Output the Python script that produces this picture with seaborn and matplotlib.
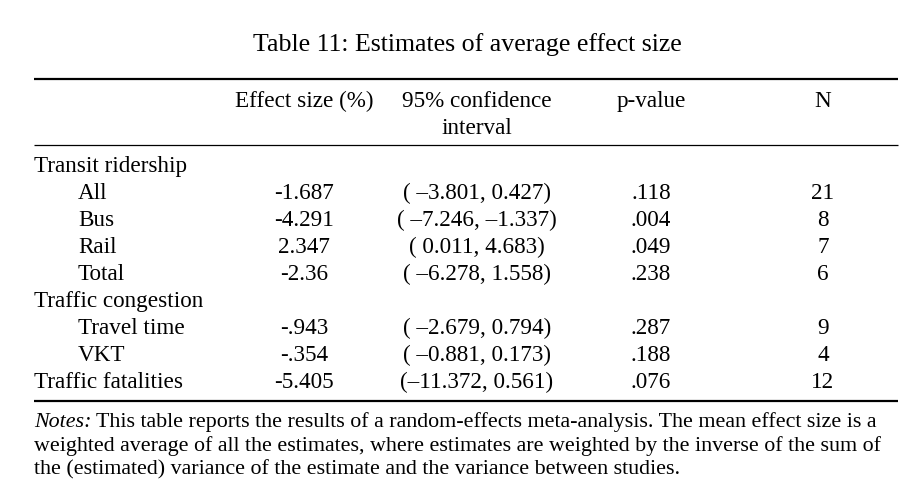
import seaborn as sns
import matplotlib
matplotlib.use('Agg')
from matplotlib import pyplot as plt

# table contents
title = 'Table 11: Estimates of average effect size'
col_heads = ['Effect size (%)', '95% confidence\ninterval', 'p-value', 'N']
row_labels = ['Transit ridership', 'All', 'Bus', 'Rail', 'Total',
              'Traffic congestion', 'Travel time', 'VKT', 'Traffic fatalities']
indented = [False, True, True, True, True, False, True, True, False]
effect = [None, -1.687, -4.291, 2.347, -2.36, None, -.943, -.354, -5.405]
ci_low = [None, -3.801, -7.246, 0.011, -6.278, None, -2.679, -0.881, -11.372]
ci_high = [None, 0.427, -1.337, 4.683, 1.558, None, 0.794, 0.173, 0.561]
p_values = [None, .118, .004, .049, .238, None, .287, .188, .076]
n_obs = [None, 21, 8, 7, 6, None, 9, 4, 12]
notes = ('This table reports the results of a random-effects meta-analysis. The mean effect size is a\n'
         'weighted average of all the estimates, where estimates are weighted by the inverse of the sum of\n'
         'the (estimated) variance of the estimate and the variance between studies.')


def fmt_effect(v):
    s = f'{v:g}'
    return s.replace('-0.', '-.')


def fmt_ci(lo, hi):
    lo_s = f'{lo:.3f}'.replace('-', '\u2013')
    hi_s = f'{hi:.3f}'.replace('-', '\u2013')
    pad = '(' if len(lo_s) >= 7 else '( '
    return f'{pad}{lo_s}, {hi_s})'


sns.set_theme(style='white')
plt.rcParams['font.family'] = ['Liberation Serif', 'DejaVu Serif']
plt.rcParams['text.color'] = 'black'

fig = plt.figure(figsize=(9.19, 4.93), dpi=100)
ax = fig.add_axes([0, 0, 1, 1])
ax.set_xlim(0, 919)
ax.set_ylim(493, 0)
ax.axis('off')

fs = 16.7
nfs = 15.8
col_x = [304, 477, 651, 823]
left = 34
indent = 78


# y is the baseline, in pixels from the top
def put(x, y, s, ha='center', size=fs, **kw):
    return ax.text(x, y, s, ha=ha, va='baseline', fontsize=size, **kw)


put(467, 51, title, size=18.6)

ax.hlines(78.5, 34, 898, color='black', lw=1.6)
ax.hlines(145, 34, 898, color='black', lw=0.9)
ax.hlines(401, 34, 898, color='black', lw=1.6)

put(col_x[0], 107, col_heads[0])
h1, h2 = col_heads[1].split('\n')
put(col_x[1], 107, h1)
put(col_x[1], 134, h2)
put(col_x[2], 107, col_heads[2])
put(col_x[3], 107, col_heads[3])

for i, lab in enumerate(row_labels):
    y = 172 + 27 * i
    put(indent if indented[i] else left, y, lab, ha='left')
    if effect[i] is None:
        continue
    put(col_x[0], y, fmt_effect(effect[i]))
    put(col_x[1], y, fmt_ci(ci_low[i], ci_high[i]))
    put(col_x[2], y, f'{p_values[i]:.3f}'.lstrip('0'))
    put(col_x[3], y, str(n_obs[i]))

for j, line in enumerate(notes.split('\n')):
    y = 427 + round(23.5 * j)
    if j == 0:
        t = put(left, y, 'Notes:', ha='left', size=nfs, style='italic')
        fig.canvas.draw()
        bb = t.get_window_extent()
        x0 = ax.transData.inverted().transform((bb.x1, 0))[0] + 4
        put(x0, y, line, ha='left', size=nfs)
    else:
        put(left, y, line, ha='left', size=nfs)

# matplotlib's baseline uses max(descent, descent of "lp"); glyphs that go
# deeper than "p" would lift the line, so push those texts back down
renderer = fig.canvas.get_renderer()
for t in ax.texts:
    prop = t.get_fontproperties()
    _, _, d = renderer.get_text_width_height_descent(t.get_text(), prop, ismath=False)
    _, _, lpd = renderer.get_text_width_height_descent('lp', prop, ismath=False)
    if d > lpd:
        x, y = t.get_position()
        t.set_position((x, y + (d - lpd)))

fig.savefig('out.png', dpi=100, facecolor='white')
